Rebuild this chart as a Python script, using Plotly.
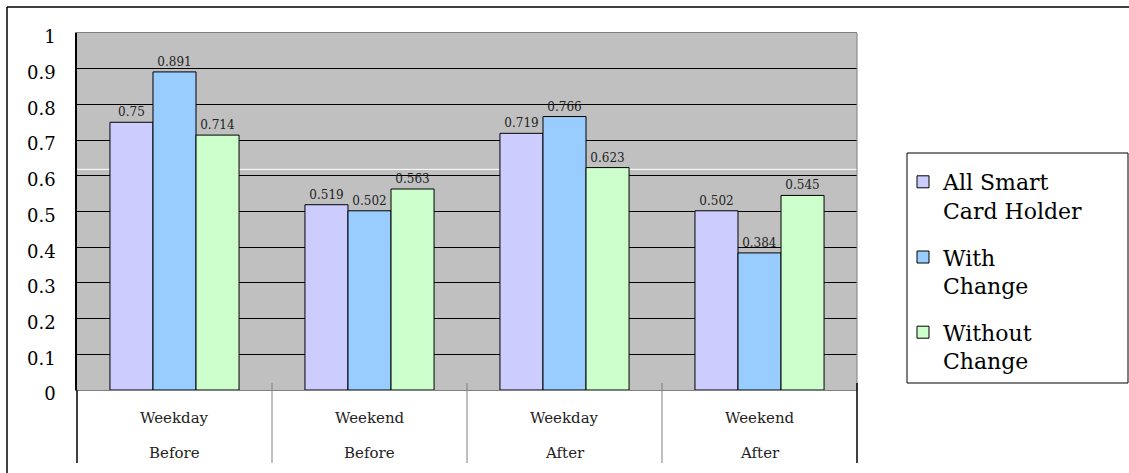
import plotly.graph_objects as go

# Survey groups: day type (upper label row) and period (lower label row)
day_types = ["Weekday", "Weekend", "Weekday", "Weekend"]
periods = ["Before", "Before", "After", "After"]

series_names = ["All Smart<br>Card Holder", "With<br>Change", "Without<br>Change"]
all_holder = [0.75, 0.519, 0.719, 0.502]
with_change = [0.891, 0.502, 0.766, 0.384]
without_change = [0.714, 0.563, 0.623, 0.545]

y_ticks = [0, 0.1, 0.2, 0.3, 0.4, 0.5, 0.6, 0.7, 0.8, 0.9, 1]
y_tick_text = ["0", "0.1", "0.2", "0.3", "0.4", "0.5", "0.6", "0.7", "0.8", "0.9", "1"]

colors = ["#CCCCFF", "#99CCFF", "#CCFFCC"]
FONT = "DejaVu Serif"

W, H = 1129, 473
PL, PR, PT, PB = 77, 857, 33, 390  # plot area edges in pixels


def px_x(px):
    return (px - PL) / (PR - PL)


def px_y(py):
    return (PB - py) / (PB - PT)


categories = [f"{d} {p}" for d, p in zip(day_types, periods)]

fig = go.Figure()
for i, (name, vals) in enumerate(zip(series_names, [all_holder, with_change, without_change])):
    fig.add_trace(go.Bar(
        x=categories,
        y=vals,
        name=name,
        legendgroup=f"g{i}",
        marker=dict(color=colors[i], line=dict(color="#000000", width=1)),
        text=[str(v) for v in vals],
        textposition="outside",
        textfont=dict(family=FONT, size=12, color="#222222"),
        constraintext="none",
        cliponaxis=False,
    ))

shapes = []
# outer chart frame (top and left edges)
shapes.append(dict(type="line", xref="paper", yref="paper",
                   x0=px_x(7), x1=px_x(W + 10), y0=px_y(7), y1=px_y(7),
                   line=dict(color="#000000", width=1.5)))
shapes.append(dict(type="line", xref="paper", yref="paper",
                   x0=px_x(7), x1=px_x(7), y0=px_y(7), y1=px_y(H + 10),
                   line=dict(color="#000000", width=1.5)))
# stray light line across the plot area
shapes.append(dict(type="line", xref="paper", yref="y", layer="below",
                   x0=0, x1=1, y0=0.618, y1=0.618,
                   line=dict(color="#FFFFFF", width=1)))
# right border of the plot area
shapes.append(dict(type="line", xref="paper", yref="paper",
                   x0=1, x1=1, y0=0, y1=1,
                   line=dict(color="#808080", width=1)))
# category dividers below the axis
for k in range(len(categories) - 1):
    shapes.append(dict(type="line", xref="x", yref="paper",
                       x0=k + 0.5, x1=k + 0.5, y0=px_y(383), y1=px_y(463),
                       line=dict(color="#808080", width=1)))
for xe in (0, 1):
    shapes.append(dict(type="line", xref="paper", yref="paper",
                       x0=xe, x1=xe, y0=px_y(383) if xe else 0, y1=px_y(463),
                       line=dict(color="#000000", width=1.5)))
# legend frame
shapes.append(dict(type="rect", xref="paper", yref="paper",
                   x0=px_x(907), x1=px_x(1128), y0=px_y(383), y1=px_y(153),
                   line=dict(color="#000000", width=1), fillcolor="rgba(0,0,0,0)"))

annotations = []
for cat, d, p in zip(categories, day_types, periods):
    annotations.append(dict(x=cat, xref="x", y=px_y(418), yref="paper",
                            text=d, showarrow=False, yanchor="middle",
                            font=dict(family=FONT, size=15, color="#222222")))
    annotations.append(dict(x=cat, xref="x", y=px_y(453), yref="paper",
                            text=p, showarrow=False, yanchor="middle",
                            font=dict(family=FONT, size=15, color="#222222")))

fig.update_layout(
    width=W, height=H,
    margin=dict(l=PL, r=W - PR, t=PT, b=H - PB, pad=0),
    paper_bgcolor="#FFFFFF",
    plot_bgcolor="#C0C0C0",
    barmode="group",
    bargap=0.338,
    bargroupgap=0,
    font=dict(family=FONT, color="#000000"),
    showlegend=True,
    legend=dict(
        x=px_x(903), y=px_y(161), xanchor="left", yanchor="top",
        font=dict(family=FONT, size=22, color="#000000"),
        valign="top", tracegroupgap=15, itemwidth=30,
        bgcolor="rgba(0,0,0,0)", borderwidth=0,
    ),
    xaxis=dict(
        showticklabels=False, ticks="", showgrid=False,
        showline=True, linecolor="#808080", linewidth=1, mirror=True,
        zeroline=False,
    ),
    yaxis=dict(
        range=[0, 1], tickvals=y_ticks, ticktext=y_tick_text,
        tickfont=dict(family=FONT, size=18, color="#000000"),
        showgrid=True, gridcolor="#000000", gridwidth=1,
        showline=True, linecolor="#000000", linewidth=1.5,
        ticks="", ticklabelstandoff=16, ticklabelshift=4, zeroline=False,
    ),
    shapes=shapes,
    annotations=annotations,
)

fig.write_html("out.html")
